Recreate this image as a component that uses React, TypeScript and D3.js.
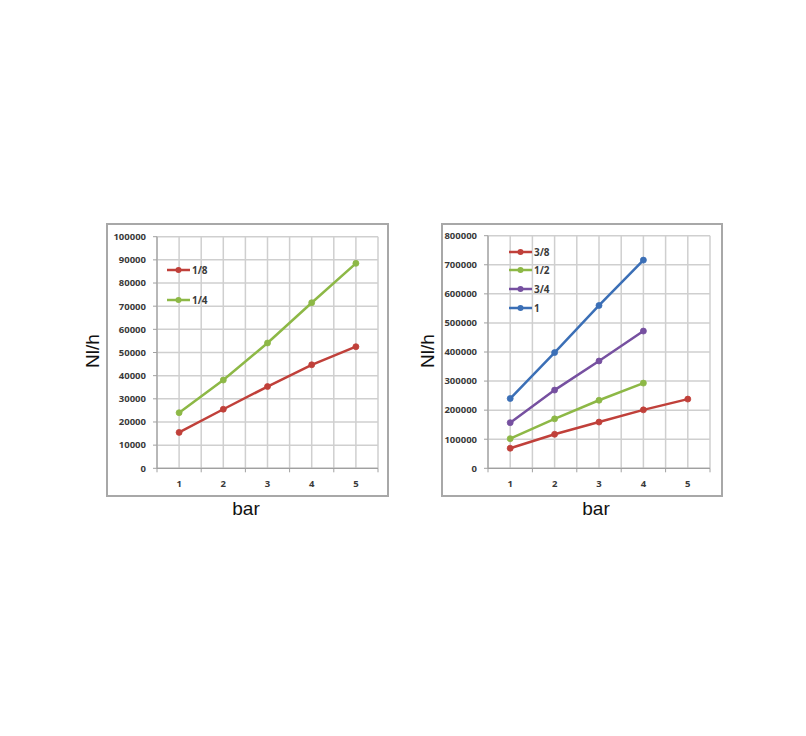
import React from "react";
import * as d3 from "d3";

const categories = [1, 2, 3, 4, 5];

const leftSeriesNames = ["1/8", "1/4"];
const left18 = [15500, 25500, 35300, 44700, 52500];
const left14 = [24000, 38100, 54100, 71500, 88500];
const leftTicks = [0, 10000, 20000, 30000, 40000, 50000, 60000, 70000, 80000, 90000, 100000];

const rightSeriesNames = ["3/8", "1/2", "3/4", "1"];
const right38 = [69000, 117000, 159000, 201000, 238000];
const right12 = [102000, 170000, 234000, 293000];
const right34 = [157000, 269000, 369000, 472000];
const right1 = [240000, 398000, 560000, 716000];
const rightTicks = [0, 100000, 200000, 300000, 400000, 500000, 600000, 700000, 800000];

const RED = "#C0403A";
const GREEN = "#8DB846";
const PURPLE = "#7650A0";
const BLUE = "#3B6FB6";

type Series = { name: string; values: number[]; color: string };

type ChartProps = {
  frame: { x: number; y: number; w: number; h: number };
  plot: { x0: number; x1: number; y0: number; y1: number };
  yMax: number;
  ticks: number[];
  series: Series[];
  legend: { x: number; ys: number[] };
  yTitle: { x: number; y: number };
  xTitle: { x: number; y: number };
};

function Chart({ frame, plot, yMax, ticks, series, legend, yTitle, xTitle }: ChartProps) {
  const x = d3
    .scaleBand<number>()
    .domain(categories)
    .range([plot.x0, plot.x1])
    .padding(0);
  const y = d3.scaleLinear().domain([0, yMax]).range([plot.y1, plot.y0]);
  const bw = x.bandwidth();
  const vLines: number[] = [];
  categories.forEach((c) => {
    vLines.push(x(c)!);
    vLines.push(x(c)! + bw / 2);
  });
  vLines.push(plot.x1);
  const line = d3
    .line<number>()
    .x((_, i) => x(categories[i])! + bw / 2)
    .y((v) => y(v));
  const fontFam = "'Open Sans', 'Liberation Sans', Arial, sans-serif";
  return (
    <g>
      <rect
        x={frame.x}
        y={frame.y}
        width={frame.w}
        height={frame.h}
        fill="#fff"
        stroke="#a8a8a8"
        strokeWidth={2}
      />
      {ticks.map((t) => (
        <line key={"h" + t} x1={plot.x0} x2={plot.x1} y1={y(t)} y2={y(t)} stroke="#cfcfcf" strokeWidth={1.5} />
      ))}
      {vLines.map((v, i) => (
        <line key={"v" + i} x1={v} x2={v} y1={plot.y0} y2={plot.y1} stroke="#cfcfcf" strokeWidth={1.5} />
      ))}
      <line x1={plot.x0} x2={plot.x0} y1={plot.y0} y2={plot.y1} stroke="#a0a0a0" strokeWidth={1.2} />
      <line x1={plot.x0} x2={plot.x1} y1={plot.y1} y2={plot.y1} stroke="#a0a0a0" strokeWidth={1.2} />
      {categories.map((c) => (
        <line key={"tk" + c} x1={x(c)!} x2={x(c)!} y1={plot.y1} y2={plot.y1 + 4} stroke="#a0a0a0" strokeWidth={1} />
      ))}
      <line x1={plot.x1} x2={plot.x1} y1={plot.y1} y2={plot.y1 + 4} stroke="#a0a0a0" strokeWidth={1} />
      {ticks.map((t) => (
        <line key={"ty" + t} x1={plot.x0 - 4} x2={plot.x0} y1={y(t)} y2={y(t)} stroke="#a0a0a0" strokeWidth={1} />
      ))}
      {ticks.map((t) => (
        <text
          key={"yl" + t}
          x={plot.x0 - 11}
          y={y(t)}
          dy="0.35em"
          textAnchor="end"
          fontFamily={fontFam}
          fontSize={9.5}
          fontWeight="bold"
          fill="#3a3a3a"
        >
          {t}
        </text>
      ))}
      {categories.map((c) => (
        <text
          key={"xl" + c}
          x={x(c)! + bw / 2}
          y={plot.y1 + 15}
          dy="0.35em"
          textAnchor="middle"
          fontFamily={fontFam}
          fontSize={9.5}
          fontWeight="bold"
          fill="#3a3a3a"
        >
          {c}
        </text>
      ))}
      {series.map((s) => (
        <g key={s.name}>
          <path d={line(s.values) || ""} fill="none" stroke={s.color} strokeWidth={2.5} />
          {s.values.map((v, i) => (
            <circle key={i} cx={x(categories[i])! + bw / 2} cy={y(v)} r={3} fill={s.color} stroke={s.color} strokeWidth={0.8} />
          ))}
        </g>
      ))}
      {series.map((s, i) => (
        <g key={"lg" + s.name}>
          <line x1={legend.x} x2={legend.x + 23} y1={legend.ys[i]} y2={legend.ys[i]} stroke={s.color} strokeWidth={2.5} />
          <circle cx={legend.x + 11.5} cy={legend.ys[i]} r={3} fill={s.color} />
          <text
            x={legend.x + 25}
            y={legend.ys[i]}
            dy="0.35em"
            fontFamily={fontFam}
            fontSize={10}
            fontWeight="bold"
            fill="#3a3a3a"
          >
            {s.name}
          </text>
        </g>
      ))}
      <text
        transform={`translate(${yTitle.x},${yTitle.y}) rotate(-90)`}
        textAnchor="middle"
        dy="0.35em"
        fontFamily="'Liberation Sans', Arial, sans-serif"
        fontSize={19}
        fill="#111"
      >
        Nl/h
      </text>
      <text
        x={xTitle.x}
        y={xTitle.y}
        textAnchor="middle"
        fontFamily="'Liberation Sans', Arial, sans-serif"
        fontSize={19}
        fill="#111"
      >
        bar
      </text>
    </g>
  );
}

export default function App() {
  const leftSeries: Series[] = [
    { name: leftSeriesNames[0], values: left18, color: RED },
    { name: leftSeriesNames[1], values: left14, color: GREEN },
  ];
  const rightSeries: Series[] = [
    { name: rightSeriesNames[0], values: right38, color: RED },
    { name: rightSeriesNames[1], values: right12, color: GREEN },
    { name: rightSeriesNames[2], values: right34, color: PURPLE },
    { name: rightSeriesNames[3], values: right1, color: BLUE },
  ];
  return (
    <svg
      width={806}
      height={736}
      style={{ position: "absolute", left: 0, top: 0, background: "#fff" }}
    >
      <rect x={0} y={0} width={806} height={736} fill="#fff" />
      <Chart
        frame={{ x: 107, y: 224, w: 281, h: 272 }}
        plot={{ x0: 157, x1: 378, y0: 236.7, y1: 468.3 }}
        yMax={100000}
        ticks={leftTicks}
        series={leftSeries}
        legend={{ x: 167, ys: [270, 300] }}
        yTitle={{ x: 92, y: 351 }}
        xTitle={{ x: 246, y: 515 }}
      />
      <Chart
        frame={{ x: 442, y: 224, w: 280, h: 272 }}
        plot={{ x0: 488, x1: 710, y0: 235.7, y1: 468.3 }}
        yMax={800000}
        ticks={rightTicks}
        series={rightSeries}
        legend={{ x: 509, ys: [252, 270, 289, 308] }}
        yTitle={{ x: 427, y: 351 }}
        xTitle={{ x: 596, y: 515 }}
      />
    </svg>
  );
}
